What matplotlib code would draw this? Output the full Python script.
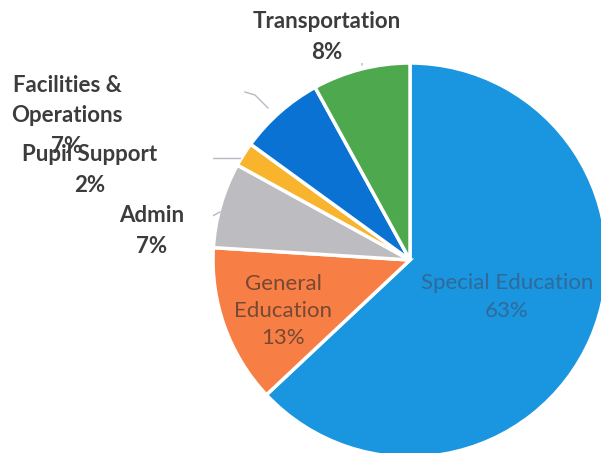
import matplotlib.pyplot as plt

# slices, clockwise from 12 o'clock
labels = ['Special Education', 'General\nEducation', 'Admin', 'Pupil Support',
          'Facilities &\nOperations', 'Transportation']
values = [63, 13, 7, 2, 7, 8]
colors = ['#1a95e0', '#f77f45', '#bdbcc0', '#f8b42c', '#0a72d2', '#4ea84e']

plt.rcParams['font.family'] = ['Lato', 'DejaVu Sans']

W, H = 601, 453
cx, cy, r = 410, 260, 197

fig = plt.figure(figsize=(W / 100, H / 100), dpi=100)
ax = fig.add_axes([(cx - r) / W, (H - cy - r) / H, 2 * r / W, 2 * r / H])

ax.pie(values, colors=colors, startangle=90, counterclock=False, radius=1,
       wedgeprops=dict(edgecolor='white', linewidth=2.5))
ax.set_xlim(-1, 1)
ax.set_ylim(-1, 1)
ax.axis('off')


def px(x, y):
    return (x - cx) / r, (cy - y) / r


# labels inside the two large slices
ax.text(*px(507, 297), 'Special Education\n63%', ha='center', va='center',
        fontsize=16, color='#2f6a98', linespacing=1.45)
ax.text(*px(283, 311), 'General\nEducation\n13%', ha='center', va='center',
        fontsize=16, color='#774833', linespacing=1.45)

# outside labels
out = [
    ('Transportation\n8%', 327, 37),
    ('Facilities &\nOperations\n7%', 67, 116),
    ('Pupil Support\n2%', 90, 170),
    ('Admin\n7%', 152, 231),
]
for txt, x, y in out:
    ax.text(*px(x, y), txt, ha='center', va='center', fontsize=16,
            fontweight='bold', color='#3c3c3c', linespacing=1.55)

# leader lines
lead = [
    ([358, 362, 362], [57, 58, 65]),
    ([245, 255, 268], [92, 95, 108]),
    ([195, 240], [158, 158]),
    ([190, 205, 220], [223, 220, 212]),
]
for xs, ys in lead:
    pts = [px(a, b) for a, b in zip(xs, ys)]
    ax.plot([p[0] for p in pts], [p[1] for p in pts], color='#b8b8c4', lw=1)
ax.plot(*zip(px(163, 159), px(190, 159)), color='#9a9aa6', lw=1, ls=(0, (1, 2)))

fig.savefig('out.png', dpi=100)
